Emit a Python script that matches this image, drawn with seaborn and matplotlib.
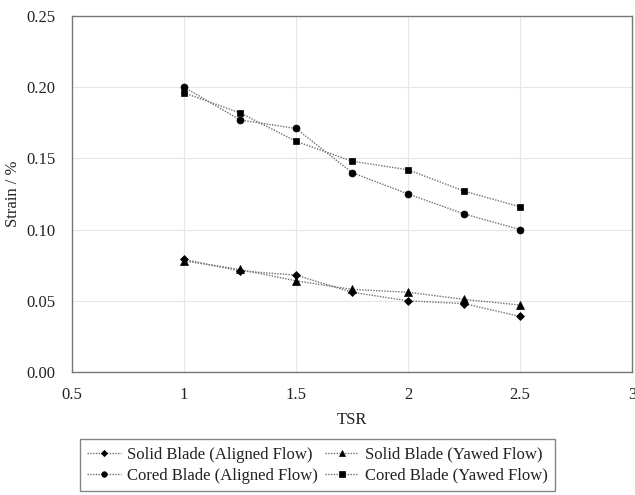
import matplotlib
matplotlib.use("Agg")
import matplotlib.pyplot as plt
import seaborn as sns
import pandas as pd

tsr = [1.0, 1.25, 1.5, 1.75, 2.0, 2.25, 2.5]

solid_aligned = [0.079, 0.071, 0.068, 0.056, 0.050, 0.048, 0.039]
solid_yawed = [0.078, 0.072, 0.064, 0.058, 0.056, 0.051, 0.047]
cored_aligned = [0.200, 0.177, 0.171, 0.140, 0.125, 0.111, 0.100]
cored_yawed = [0.196, 0.182, 0.162, 0.148, 0.142, 0.127, 0.116]

series_names = [
    "Solid Blade (Aligned Flow)",
    "Solid Blade (Yawed Flow)",
    "Cored Blade (Aligned Flow)",
    "Cored Blade (Yawed Flow)",
]
series_values = [solid_aligned, solid_yawed, cored_aligned, cored_yawed]
markers = ["D", "^", "o", "s"]
marker_sizes = [4, 6, 5, 5]

sns.set_theme(style="white")
plt.rcParams["font.family"] = ["Liberation Serif", "DejaVu Serif"]

fs = 12
fig = plt.figure(figsize=(6.35, 4.95), dpi=100)
ax = fig.add_axes([0.1134, 0.2485, 0.8820, 0.7192])

for name, vals, m, ms in zip(series_names, series_values, markers, marker_sizes):
    df = pd.DataFrame({"TSR": tsr, "Strain": vals})
    sns.lineplot(
        data=df, x="TSR", y="Strain", ax=ax, label=name,
        color="#707070", linewidth=1.0, linestyle=(0, (1, 1)),
        marker=m, markersize=ms, markerfacecolor="black",
        markeredgecolor="black", markeredgewidth=0.5,
    )

ax.set_xlim(0.5, 3)
ax.set_ylim(0, 0.25)
ax.set_xticks([0.5, 1, 1.5, 2, 2.5, 3])
ax.set_xticklabels(["0.5", "1", "1.5", "2", "2.5", "3"])
ax.set_yticks([0, 0.05, 0.10, 0.15, 0.20, 0.25])
ax.set_yticklabels(["0.00", "0.05", "0.10", "0.15", "0.20", "0.25"])
ax.grid(True, color="#e6e6e6", linewidth=0.8)
ax.tick_params(axis="x", direction="in", length=4, width=0.8, color="#555555",
               labelsize=fs, pad=11, labelcolor="#222222")
ax.tick_params(axis="y", length=0, labelsize=fs, pad=12, labelcolor="#222222")
for sp in ax.spines.values():
    sp.set_color("#777777")
    sp.set_linewidth(1.0)

ax.set_xlabel("TSR", fontsize=fs, color="#222222", labelpad=6)
ax.set_ylabel("Strain / %", fontsize=fs, color="#222222", labelpad=4)

# matplotlib fills legend columns first, so reorder to get row-wise layout
handles, labels = ax.get_legend_handles_labels()
order = [0, 2, 1, 3]
leg = ax.legend(
    [handles[i] for i in order], [labels[i] for i in order],
    loc="center", bbox_to_anchor=(0.5, 0.06), bbox_transform=fig.transFigure,
    ncol=2, fontsize=fs, frameon=True, fancybox=False, edgecolor="#666666",
    handlelength=2.0, columnspacing=0.4, handletextpad=0.4, borderpad=0.45,
    labelspacing=0.3, markerscale=0.8,
)
leg.get_frame().set_linewidth(1.0)
for t in leg.get_texts():
    t.set_color("#222222")

fig.savefig("out.png", dpi=100)
